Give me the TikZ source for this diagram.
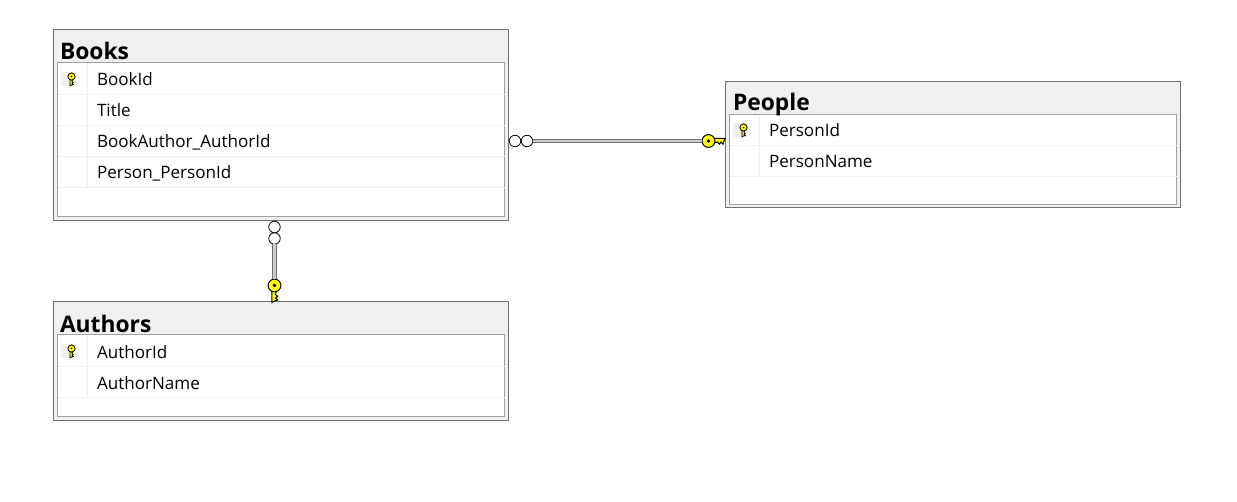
\documentclass[tikz,border=0pt]{standalone}
\usepackage{fontspec}
\setmainfont{Open Sans}
\definecolor{framegray}{HTML}{707070}
\definecolor{innergray}{HTML}{A0A0A0}
\definecolor{headgray}{HTML}{F0F0F0}
\definecolor{keyyellow}{HTML}{FFFF00}
\tikzset{
    every node/.append style={inner sep=0pt, outer sep=0pt},
    tableframe/.style={rectangle, draw=framegray, fill=headgray, line width=.75pt,
        anchor=north west, minimum width=341.25pt},
    tablebody/.style={rectangle, draw=innergray, fill=white, line width=.75pt,
        anchor=north west, minimum width=335.25pt},
    tabletitle/.style={anchor=base west, font=\fontsize{17.1}{20}\selectfont\bfseries},
    rowtext/.style={anchor=base west, font=\fontsize{12.8}{15}\selectfont},
    rowline/.style={draw=headgray, line width=.75pt},
    keybox/.style={rectangle, fill=headgray, minimum width=11pt, minimum height=10.5pt},
    endcircle/.style={circle, draw=black, fill=white, line width=.6pt, minimum size=8.6pt},
    bigbow/.style={circle, draw=black, fill=keyyellow, line width=.75pt, minimum size=9.6pt,
        path picture={\fill[black] (path picture bounding box.center) circle (1.4pt);}},
    smallbow/.style={circle, draw=black, fill=keyyellow, line width=.6pt, minimum size=5.4pt,
        path picture={\fill[black] (path picture bounding box.center) circle (.7pt);}},
    relline/.style={draw=framegray, double=headgray!85!black, line width=.9pt, double distance=1.7pt},
    pics/keyblade/.style={code={
        \draw[black, fill=keyyellow, line width=#1, line join=miter]
            (3,-2.6) -- (17,-2.6) -- (15.5,0) -- (14.5,3.2) -- (12.5,1) -- (11,3.2)
            -- (9,1) -- (3,2.6) -- cycle;
    }}
}

\begin{document}
\begin{tikzpicture}[x=.75pt, y=-.75pt]
	\useasboundingbox (0,0) rectangle (1237,502);

	% tables
	\node (books) [tableframe, minimum height=143.25pt] at (53.5,29.5) {};
	\node (booksbody) [tablebody, minimum height=115.5pt] at (57.5,62.5) {};
	\node (people) [tableframe, minimum height=94.5pt] at (725.5,81.5) {};
	\node (peoplebody) [tablebody, minimum height=67.5pt] at (729.5,114.5) {};
	\node (authors) [tableframe, minimum height=89.25pt] at (53.5,301.5) {};
	\node (authorsbody) [tablebody, minimum height=61.5pt] at (57.5,334.5) {};

	% row lines
	\foreach \y in {94.5,125.5,156.5,187.5}
		\draw[rowline] (booksbody.west |- 0,\y) -- (booksbody.east |- 0,\y);
	\foreach \y in {145.5,176.5}
		\draw[rowline] (peoplebody.west |- 0,\y) -- (peoplebody.east |- 0,\y);
	\foreach \y in {366.5,397.5}
		\draw[rowline] (authorsbody.west |- 0,\y) -- (authorsbody.east |- 0,\y);
	\draw[rowline] (87.5,63) -- (87.5,187.5);
	\draw[rowline] (759.5,115) -- (759.5,176.5);
	\draw[rowline] (87.5,335) -- (87.5,397.5);

	% titles
	\node (bookstitle) [tabletitle] at (60,60) {Books};
	\node (peopletitle) [tabletitle] at (733,111) {People};
	\node (authorstitle) [tabletitle] at (60,332) {Authors};

	% rows
	\node (bookid) [rowtext] at (97,86) {BookId};
	\node (title) [rowtext] at (97,117) {Title};
	\node (bookauthor) [rowtext] at (97,148) {BookAuthor\_AuthorId};
	\node (bookperson) [rowtext] at (97,179) {Person\_PersonId};
	\node (personid) [rowtext] at (769,137) {PersonId};
	\node (personname) [rowtext] at (769,168) {PersonName};
	\node (authorid) [rowtext] at (97,358) {AuthorId};
	\node (authorname) [rowtext] at (97,389) {AuthorName};

	% primary key icons
	\node (bookbox) [keybox] at (68.5,79) {};
	\node (personbox) [keybox] at (740.5,130) {};
	\node (authorbox) [keybox] at (68.5,351) {};
	\pic[rotate=-90, yscale=-1, scale=.55] at (71.5,76.5) {keyblade=.55pt};
	\pic[rotate=-90, yscale=-1, scale=.55] at (743.5,127.5) {keyblade=.55pt};
	\pic[rotate=-90, yscale=-1, scale=.55] at (71.5,348.5) {keyblade=.55pt};
	\node (bookkey) [smallbow] at (71.5,76.5) {};
	\node (personkey) [smallbow] at (743.5,127.5) {};
	\node (authorkey) [smallbow] at (71.5,348.5) {};

	% relationship ends
	\node (pa) [endcircle] at (515,141) {};
	\node (pb) [endcircle] at (527,141) {};
	\node (aa) [endcircle] at (274.5,227) {};
	\node (ab) [endcircle] at (274.5,238.5) {};
	\pic at (708.5,141) {keyblade=.75pt};
	\pic[rotate=-90, yscale=-1] at (274.5,285.5) {keyblade=.75pt};
	\node (peoplekey) [bigbow] at (708.5,141) {};
	\node (authorskey) [bigbow] at (274.5,285.5) {};

	\draw[relline] (pb) -- (peoplekey);
	\draw[relline] (ab) -- (authorskey);
\end{tikzpicture}
\end{document}
